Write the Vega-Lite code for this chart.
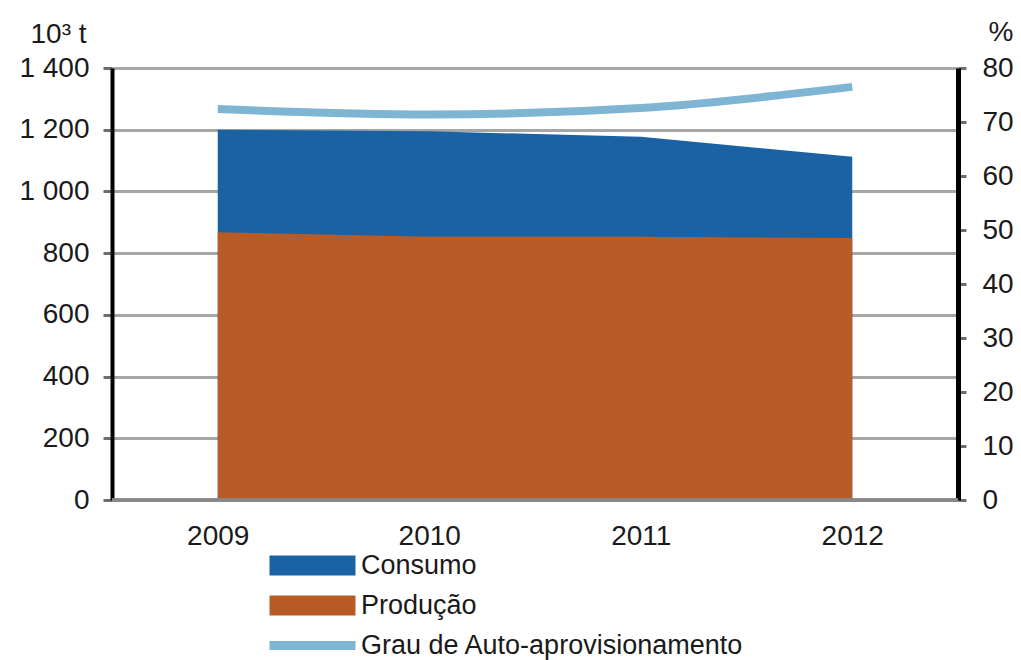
{
  "$schema": "https://vega.github.io/schema/vega-lite/v6.json",
  "width": 846,
  "height": 432,
  "autosize": "none",
  "padding": {"left": 112, "top": 68, "right": 63, "bottom": 160},
  "background": "white",
  "config": {
    "view": {"stroke": null},
    "font": "Liberation Sans",
    "axis": {"labelFont": "Liberation Sans", "titleFont": "Liberation Sans", "labelColor": "#1a1a1a", "titleColor": "#1a1a1a", "labelFontSize": 28, "titleFontSize": 28, "titleFontWeight": "normal"},
    "legend": {"labelFont": "Liberation Sans", "labelFontSize": 27, "labelColor": "#1a1a1a", "labelLimit": 0}
  },
  "data": {
    "values": [
      {"ano": "2009", "Consumo": 1200, "Producao": 868, "Grau": 72.4},
      {"ano": "2010", "Consumo": 1195, "Producao": 853, "Grau": 71.4},
      {"ano": "2011", "Consumo": 1177, "Producao": 853, "Grau": 72.6},
      {"ano": "2012", "Consumo": 1112, "Producao": 849, "Grau": 76.5}
    ]
  },
  "encoding": {
    "x": {
      "field": "ano", "type": "ordinal",
      "scale": {"type": "point", "padding": 0.5},
      "axis": {"title": null, "labelAngle": 0, "ticks": false, "domain": false, "labelPadding": 22, "labelBaseline": "top", "grid": false}
    }
  },
  "layer": [
    {
      "layer": [
        {
          "mark": {"type": "area", "opacity": 1},
          "encoding": {
            "y": {
              "field": "Consumo", "type": "quantitative", "stack": null,
              "scale": {"domain": [0, 1400], "nice": false},
              "title": "10³ t",
              "axis": {
                "title": "10³ t", "titleAngle": 0, "titleAlign": "left", "titleX": -82, "titleY": -26, "titleBaseline": "alphabetic",
                "values": [0, 200, 400, 600, 800, 1000, 1200, 1400],
                "labelExpr": "replace(format(datum.value, ','), ',', ' ')",
                "grid": true, "gridColor": "#a6a6a6", "gridWidth": 3,
                "domainColor": "#000000", "domainWidth": 4, "tickColor": "#6e6e6e", "tickWidth": 3, "tickSize": 9, "labelPadding": 14
              }
            },
            "color": {
              "datum": "Consumo", "type": "nominal",
              "scale": {"domain": ["Consumo", "Produção", "Grau de Auto-aprovisionamento"], "range": ["#1a62a4", "#b85c27", "#7eb5d2"]},
              "legend": {
                "title": null, "orient": "none", "legendX": 187, "legendY": 484, "direction": "vertical",
                "symbolType": "M-4.3,-1H4.3V1H-4.3Z", "symbolSize": 400, "symbolStrokeWidth": 0, "symbolOpacity": 1,
                "labelOffset": 35, "rowPadding": 12, "labelLimit": 0,
                "encode": {"symbols": {"update": {"shape": {"signal": "datum.value === 'Grau de Auto-aprovisionamento' ? 'M-4.3,-0.45H4.3V0.45H-4.3Z' : 'M-4.3,-1H4.3V1H-4.3Z'"}, "fill": {"signal": "scale('color', datum.value)"}, "strokeWidth": {"value": 0}}}}
              }
            }
          }
        },
        {
          "mark": {"type": "area", "opacity": 1},
          "encoding": {
            "y": {"field": "Producao", "type": "quantitative", "stack": null, "title": "10³ t"},
            "color": {"datum": "Produção", "type": "nominal"}
          }
        },
        {
          "mark": {"type": "rule", "strokeWidth": 3, "color": "#888888"},
          "encoding": {
            "x": null,
            "y": {"datum": 0, "type": "quantitative", "title": "10³ t"}
          }
        }
      ]
    },
    {
      "mark": {"type": "line", "strokeWidth": 8, "interpolate": "monotone"},
      "encoding": {
        "y": {
          "field": "Grau", "type": "quantitative",
          "scale": {"domain": [0, 80], "nice": false},
          "axis": {
            "orient": "right", "title": "%", "titleAngle": 0, "titleAlign": "left", "titleX": 30, "titleY": -28, "titleBaseline": "alphabetic",
            "values": [0, 10, 20, 30, 40, 50, 60, 70, 80],
            "grid": false, "domainColor": "#000000", "domainWidth": 5, "tickColor": "#6e6e6e", "tickWidth": 3, "tickSize": 8, "labelPadding": 16
          }
        },
        "color": {"datum": "Grau de Auto-aprovisionamento", "type": "nominal"}
      }
    }
  ],
  "resolve": {"scale": {"y": "independent"}}
}
